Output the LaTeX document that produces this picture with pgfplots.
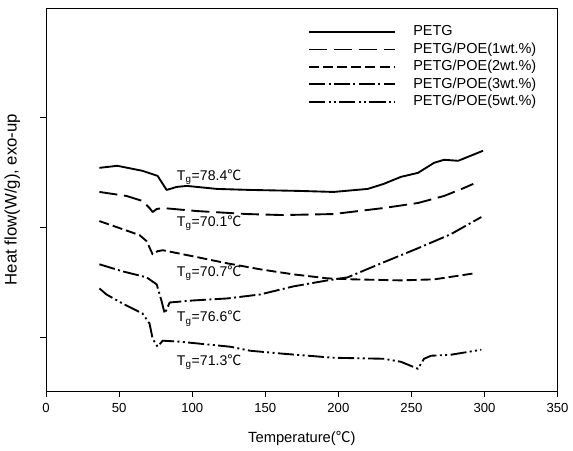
\documentclass[border=0pt]{standalone}
\usepackage{pgfplots}
\pgfplotsset{compat=1.18}
\usepackage{fontspec}
\setmainfont{Liberation Sans}
\newfontfamily\cjk{Noto Sans CJK SC}

\begin{document}
\begin{tikzpicture}
\begin{axis}[
    name=main,
    scale only axis,
    width=381.75pt, height=285.75pt,
    xmin=0, xmax=350,
    ymin=0, ymax=381,
    xtick distance=50,
    ytick={53,163,272},
    yticklabels={},
    tick align=outside,
    xtick pos=bottom, ytick pos=left,
    major tick length=4.5pt,
    tick style={black, line width=0.6pt},
    axis line style={line width=0.6pt},
    /pgf/number format/assume math mode=true,
    tick label style={font=\fontsize{9.8}{11}\selectfont},
    xticklabel style={yshift=-1.5pt},
    xlabel={Temperature({\cjk ℃})},
    ylabel={Heat flow(W/g), exo-up},
    xlabel style={font=\fontsize{11}{13}\selectfont, yshift=-7pt},
    ylabel style={font=\fontsize{12.5}{14}\selectfont, yshift=4.5pt},
    legend style={draw=none, fill=none, inner sep=0pt, at={(0.512,0.958)}, anchor=north west,
        font=\fontsize{10.8}{13}\selectfont, row sep=1.5pt,
        nodes={inner ysep=0pt, text height=8.5pt, text depth=3pt}},
    legend cell align=left,
    legend image code/.code={\draw[#1] (0pt,0pt) -- (64pt,0pt); \path (75pt,0pt);},
    every axis plot/.append style={line width=1.4pt, black, line join=round},
]
% PETG
\addplot[solid] coordinates {
    (36.5,222) (48.8,224) (66,219) (76.3,214) (82.5,200) (89.4,203) (96.3,204)
    (117,201) (139.6,200) (174,199) (196.7,198) (220,201) (231,206)
    (242.8,213) (254.5,217) (265.5,227) (272.3,230) (282,229) (299,239)
};
\addlegendentry{PETG}
% 1 wt.%
\addplot[dash pattern=on 13.5pt off 5pt] coordinates {
    (36.5,198) (55,194) (66,189) (70.8,182) (72.9,178) (75.7,181) (79.8,182)
    (103,179) (137.6,176) (162,175) (196.7,176) (231,182) (254.5,187)
    (272.3,194) (286,202) (292.3,206)
};
\addlegendentry{PETG/POE(1wt.\%)}
% 2 wt.%
\addplot[dash pattern=on 7.5pt off 3pt] coordinates {
    (36.5,169) (52.3,161) (64,155) (68.8,149) (72.9,136) (76.3,139) (79.8,140)
    (100.4,134) (123.8,127) (146.5,121) (169.2,116) (192.6,112) (210.5,111)
    (242.8,110) (265.5,111) (293,117)
};
\addlegendentry{PETG/POE(2wt.\%)}
% 3 wt.%
\addplot[dash pattern=on 12pt off 2.5pt on 1.5pt off 2.5pt] coordinates {
    (36.5,126) (52.3,119) (68.8,113) (75.7,106) (79.1,89) (81.2,77) (84.6,88)
    (100.4,90) (123.8,92) (146.5,96) (169.2,104) (192.6,110) (206.3,113)
    (231,128) (254.5,142) (277,156) (297.8,173)
};
\addlegendentry{PETG/POE(3wt.\%)}
% 5 wt.%
\addplot[dash pattern=on 12pt off 2.5pt on 1.5pt off 2.5pt on 1.5pt off 2.5pt] coordinates {
    (36.5,102) (41.3,96) (52.3,87) (66,77) (70.8,67) (72.9,52) (76.3,44)
    (79.8,50) (91.5,49) (125.9,44) (139.6,40) (162.3,37) (196.7,33)
    (231,32) (242.8,29) (254.5,22) (258.6,32) (263.4,35) (277,36) (297.8,41)
};
\addlegendentry{PETG/POE(5wt.\%)}

\node[anchor=west, font=\fontsize{10.5}{12}\selectfont, inner sep=0pt] at (axis cs:89.4,213) {T$_{\mathrm{g}}$=78.4{\cjk ℃}};
\node[anchor=west, font=\fontsize{10.5}{12}\selectfont, inner sep=0pt] at (axis cs:89.4,167) {T$_{\mathrm{g}}$=70.1{\cjk ℃}};
\node[anchor=west, font=\fontsize{10.5}{12}\selectfont, inner sep=0pt] at (axis cs:89.4,117) {T$_{\mathrm{g}}$=70.7{\cjk ℃}};
\node[anchor=west, font=\fontsize{10.5}{12}\selectfont, inner sep=0pt] at (axis cs:89.4,72) {T$_{\mathrm{g}}$=76.6{\cjk ℃}};
\node[anchor=west, font=\fontsize{10.5}{12}\selectfont, inner sep=0pt] at (axis cs:89.4,29) {T$_{\mathrm{g}}$=71.3{\cjk ℃}};
\end{axis}
\path ([yshift=6pt]main.north);
\end{tikzpicture}
\end{document}
